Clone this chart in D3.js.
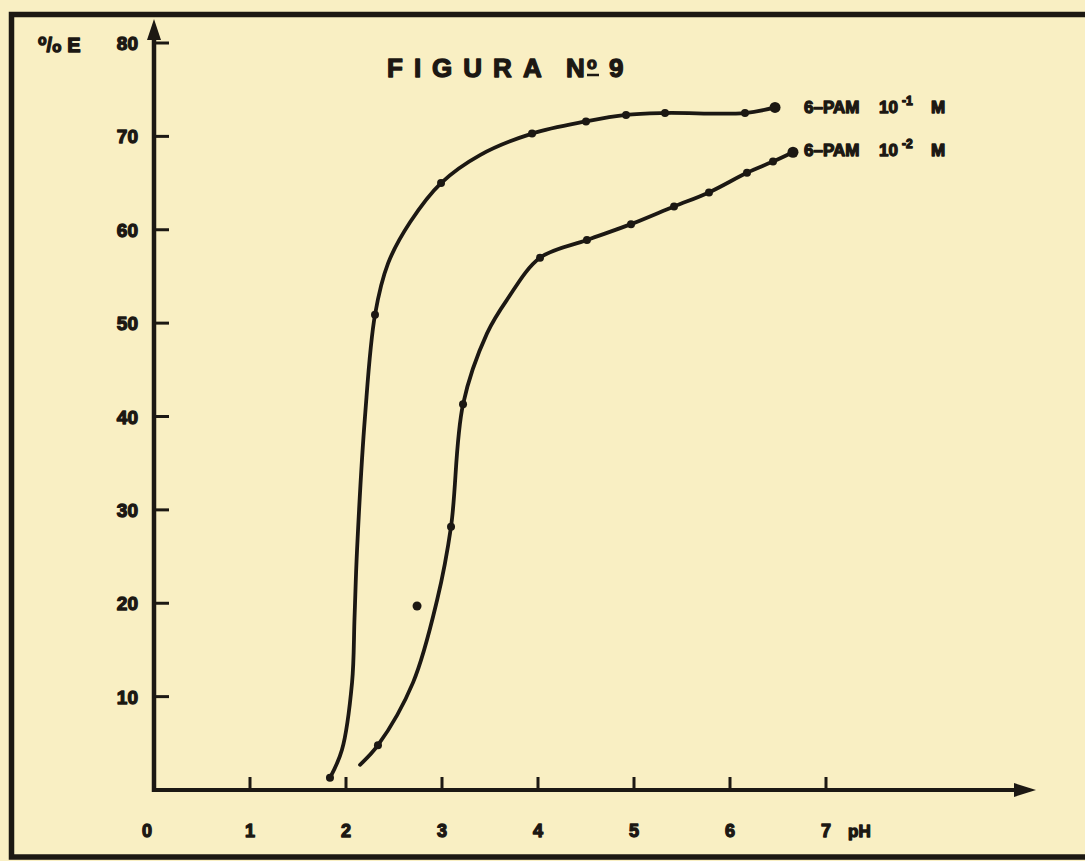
<!DOCTYPE html>
<html>
<head>
<meta charset="utf-8">
<script src="https://cdn.jsdelivr.net/npm/d3@7"></script>
<style>
  html, body { margin: 0; padding: 0; background: #f9efc3; }
  svg { display: block; }
  text { font-family: "Liberation Sans", Arial, sans-serif; font-weight: bold; fill: #1c1813; stroke: #1c1813; stroke-width: 1.3px; stroke-linejoin: round; }
</style>
</head>
<body>
<svg id="chart"></svg>
<script>
// pH ticks and %E ticks
const xTicks = [0, 1, 2, 3, 4, 5, 6, 7];
const yTicks = [10, 20, 30, 40, 50, 60, 70, 80];

// 6-PAM 10^-1 M : curve as drawn, and the measured points on it
const pam1Curve = [[1.833, 1.3], [1.958, 4.3], [2.063, 11.5], [2.089, 18.5], [2.115, 25.7], [2.198, 40.0],
  [2.302, 50.9], [2.438, 56.4], [2.667, 60.8], [2.990, 65.0], [3.396, 68.0], [3.938, 70.3], [4.500, 71.6],
  [4.917, 72.3], [5.323, 72.5], [6.156, 72.5], [6.469, 73.1]];
const pam1Dots = [[1.833, 1.3], [2.302, 50.9], [2.990, 65.0], [3.938, 70.3], [4.500, 71.6], [4.917, 72.3],
  [5.323, 72.5], [6.156, 72.5]];
const pam1End = [6.469, 73.1];

// 6-PAM 10^-2 M
const pam2Curve = [[2.146, 2.7], [2.333, 4.8], [2.698, 11.5], [2.948, 20.3], [3.094, 28.2], [3.219, 41.3],
  [3.469, 48.9], [3.677, 52.5], [4.021, 57.0], [4.510, 58.9], [4.969, 60.6], [5.417, 62.5], [5.781, 64.0],
  [6.177, 66.1], [6.448, 67.3], [6.656, 68.3]];
const pam2Dots = [[2.333, 4.8], [3.094, 28.2], [3.219, 41.3], [4.021, 57.0], [4.510, 58.9], [4.969, 60.6],
  [5.417, 62.5], [5.781, 64.0], [6.177, 66.1], [6.448, 67.3]];
const pam2End = [6.656, 68.3];

// stray point
const extraDots = [[2.740, 19.7]];

const ink = "#1c1813";
const width = 1085, height = 861;

const svg = d3.select("#chart").attr("width", width).attr("height", height);

svg.append("rect").attr("width", width).attr("height", height).attr("fill", "#f9efc3");

// page frame
svg.append("rect")
  .attr("x", 11.5).attr("y", 14.5)
  .attr("width", 1100).attr("height", 842.5)
  .attr("fill", "none").attr("stroke", ink).attr("stroke-width", 5.5);

const x = d3.scaleLinear().domain([0, 7]).range([154, 826]);
const y = d3.scaleLinear().domain([0, 80]).range([790, 43]);

// axes
svg.append("line")
  .attr("x1", x(0)).attr("y1", y(0)).attr("x2", 1020).attr("y2", y(0))
  .attr("stroke", ink).attr("stroke-width", 4);
svg.append("path")
  .attr("d", `M1036,${y(0)} L1014,${y(0) - 7} L1014,${y(0) + 7} Z`)
  .attr("fill", ink);

svg.append("line")
  .attr("x1", x(0)).attr("y1", y(0) + 2).attr("x2", x(0)).attr("y2", 34)
  .attr("stroke", ink).attr("stroke-width", 4.5);
svg.append("path")
  .attr("d", `M${x(0)},19 L${x(0) - 7},40 L${x(0) + 7},40 Z`)
  .attr("fill", ink);

// y ticks
svg.selectAll(".ytick").data(yTicks).join("line")
  .attr("x1", x(0)).attr("x2", x(0) + 15)
  .attr("y1", d => y(d)).attr("y2", d => y(d))
  .attr("stroke", ink).attr("stroke-width", 3);
svg.selectAll(".ylab").data(yTicks).join("text")
  .attr("x", 138).attr("y", d => y(d) + 7)
  .attr("text-anchor", "end").attr("font-size", 19)
  .text(d => d);

// x ticks
svg.selectAll(".xtick").data(xTicks.filter(d => d > 0)).join("line")
  .attr("x1", d => x(d)).attr("x2", d => x(d))
  .attr("y1", y(0)).attr("y2", y(0) - 13)
  .attr("stroke", ink).attr("stroke-width", 3);
svg.selectAll(".xlab").data(xTicks).join("text")
  .attr("x", d => d === 0 ? 147 : x(d)).attr("y", 837)
  .attr("text-anchor", "middle").attr("font-size", 18)
  .text(d => d);
svg.append("text").attr("x", 848).attr("y", 837).attr("font-size", 17).text("pH");

// y axis label  °/o E
const yl = svg.append("text").attr("x", 38).attr("y", 52).attr("font-size", 20);
yl.append("tspan").attr("font-size", 14).attr("dy", -7).text("o");
yl.append("tspan").attr("font-size", 20).attr("dy", 7).text("/");
yl.append("tspan").attr("font-size", 15).text("o");
yl.append("tspan").attr("dx", 6).text("E");

// title
svg.append("text")
  .attr("x", 387).attr("y", 77)
  .attr("font-size", 26).attr("letter-spacing", 11)
  .text("FIGURA");
const t2 = svg.append("text").attr("y", 77).attr("font-size", 26);
t2.append("tspan").attr("x", 566).text("N");
t2.append("tspan").attr("x", 587).attr("font-size", 16).attr("dy", -8).text("o");
t2.append("tspan").attr("x", 609).attr("dy", 8).text("9");
svg.append("line").attr("x1", 587).attr("x2", 599).attr("y1", 75).attr("y2", 75)
  .attr("stroke", ink).attr("stroke-width", 2.5);

// curves
const line = d3.line().x(d => x(d[0])).y(d => y(d[1])).curve(d3.curveCatmullRom.alpha(0.5));

[pam1Curve, pam2Curve].forEach(c => {
  svg.append("path").datum(c)
    .attr("d", line)
    .attr("fill", "none").attr("stroke", ink)
    .attr("stroke-width", 3.8).attr("stroke-linecap", "round");
});

svg.selectAll(".dot").data(pam1Dots.concat(pam2Dots)).join("circle")
  .attr("cx", d => x(d[0])).attr("cy", d => y(d[1])).attr("r", 4)
  .attr("fill", ink);
svg.selectAll(".enddot").data([pam1End, pam2End]).join("circle")
  .attr("cx", d => x(d[0])).attr("cy", d => y(d[1])).attr("r", 5.5)
  .attr("fill", ink);
svg.selectAll(".xdot").data(extraDots).join("circle")
  .attr("cx", d => x(d[0])).attr("cy", d => y(d[1])).attr("r", 4.5)
  .attr("fill", ink);

// series labels
function seriesLabel(exp, ypos) {
  const t = svg.append("text").attr("y", ypos).attr("font-size", 17);
  t.append("tspan").attr("x", 804).text("6\u2013PAM");
  t.append("tspan").attr("x", 879).text("10");
  t.append("tspan").attr("x", 902).attr("font-size", 12).attr("dy", -8).text(exp);
  t.append("tspan").attr("x", 931).attr("dy", 8).text("M");
}
seriesLabel("-1", 113);
seriesLabel("-2", 156);
</script>
</body>
</html>
